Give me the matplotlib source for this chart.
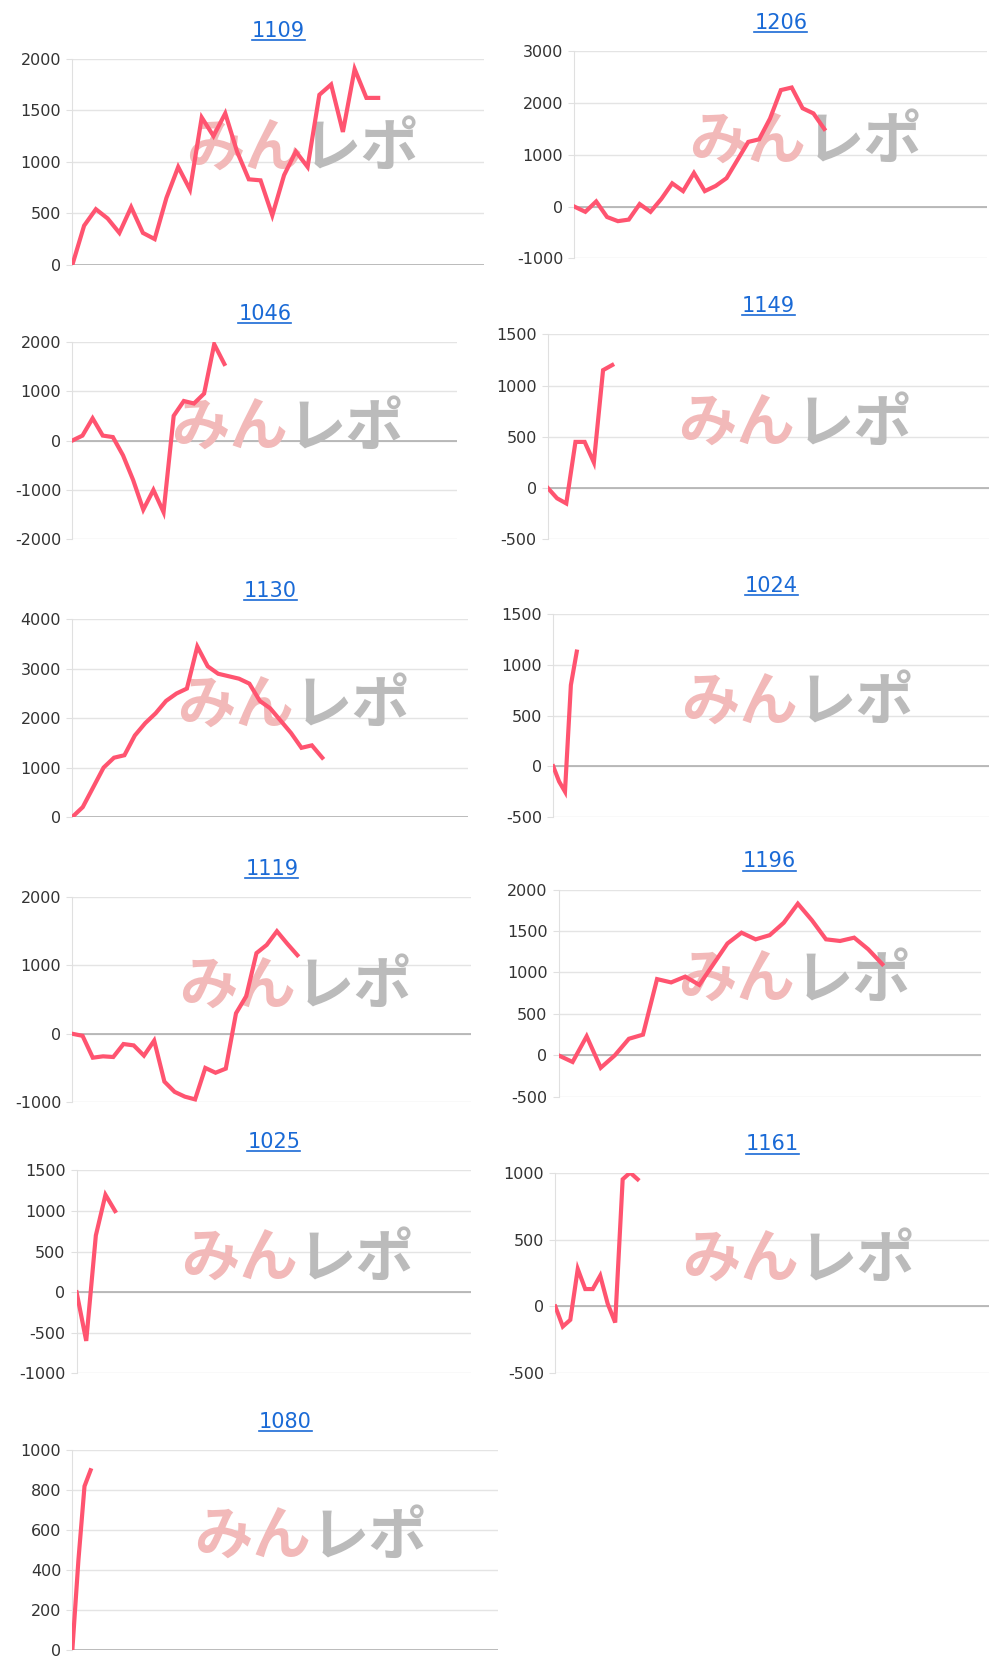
import matplotlib
matplotlib.use("Agg")
import matplotlib.pyplot as plt

plt.rcParams['font.family'] = ['DejaVu Sans', 'Noto Sans CJK JP']

titles = ["1109", "1206", "1046", "1149", "1130", "1024", "1119", "1196", "1025", "1161", "1080"]
s1109 = [0,380,540,450,310,560,310,250,650,950,730,1430,1250,1470,1100,830,820,480,870,1100,950,1650,1750,1290,1900,1620,1620]
s1206 = [0,-100,100,-200,-280,-250,50,-100,150,450,300,650,300,400,550,900,1250,1300,1700,2250,2300,1900,1800,1500]
s1046 = [0,100,450,100,70,-300,-800,-1400,-1000,-1450,500,800,750,950,1950,1550]
s1149 = [0,-100,-150,450,450,250,1150,1200]
s1130 = [0,200,600,1000,1200,1250,1650,1900,2100,2350,2500,2600,3450,3050,2900,2850,2800,2700,2350,2200,1950,1700,1400,1450,1200]
s1024 = [0,-150,-250,800,1130]
s1119 = [0,-30,-350,-330,-340,-150,-170,-320,-100,-700,-850,-920,-960,-500,-570,-510,300,550,1180,1300,1500,1320,1150]
s1196 = [0,-80,230,-150,0,200,250,920,880,950,850,1100,1350,1480,1400,1450,1600,1830,1630,1400,1380,1420,1280,1100]
s1025 = [0,-600,700,1200,1000]
s1161 = [0,-150,-100,280,130,130,230,20,-120,950,1000,950]
s1080 = [0,450,820,900]
series = [s1109, s1206, s1046, s1149, s1130, s1024, s1119, s1196, s1025, s1161, s1080]
yticks = [[0,500,1000,1500,2000],[-1000,0,1000,2000,3000],[-2000,-1000,0,1000,2000],
          [-500,0,500,1000,1500],[0,1000,2000,3000,4000],[-500,0,500,1000,1500],
          [-1000,0,1000,2000],[-500,0,500,1000,1500,2000],[-1000,-500,0,500,1000,1500],
          [-500,0,500,1000],[0,200,400,600,800,1000]]
xmax = [35,38,38,48,38,74,39,30,41,58,70]

W, H = 940.0, 1560.0
boxes = [(68,455,55,248),(540,928,48,242),(68,430,320,505),(515,930,313,505),
         (68,440,580,765),(520,930,575,765),(68,443,840,1032),(525,922,833,1027),
         (72,443,1096,1286),(522,930,1098,1286),(68,468,1358,1545)]

fig = plt.figure(figsize=(10, 16.66), dpi=100)
for i in range(11):
    x0, x1, yt, yb = boxes[i]
    ax = fig.add_axes([x0/W, 1-yb/H, (x1-x0)/W, (yb-yt)/H])
    yt_ = yticks[i]
    ax.set_ylim(yt_[0], yt_[-1])
    ax.set_xlim(0, xmax[i])
    ax.set_yticks(yt_)
    ax.set_yticklabels([str(v) for v in yt_], fontsize=11.5, color='#333333')
    ax.set_xticks([])
    for v in yt_:
        ax.axhline(v, color='#e4e4e4', lw=1, zorder=0)
    ax.axhline(0, color='#b0b0b0', lw=1.2, zorder=1)
    for s in ['top', 'right', 'bottom']:
        ax.spines[s].set_visible(False)
    ax.spines['left'].set_color('#e0e0e0')
    ax.tick_params(axis='y', length=4, color='#e0e0e0', pad=4)
    ax.plot(range(len(series[i])), series[i], color='#ff5470', lw=3, zorder=3,
            solid_joinstyle='miter')
    ax.text(0.56, 0.56, "みん", transform=ax.transAxes, fontsize=42, fontweight='bold',
            style='italic', color='#f2b9b9', ha='right', va='center', family='Noto Sans CJK JP', zorder=2)
    ax.text(0.56, 0.56, "レポ", transform=ax.transAxes, fontsize=42, fontweight='bold',
            style='italic', color='#bbbbbb', ha='left', va='center', family='Noto Sans CJK JP', zorder=2)
    ax.set_title(titles[i], fontsize=15, color='#1a6ad6', pad=16, family='DejaVu Sans')

fig.canvas.draw()
r = fig.canvas.get_renderer()
for ax in fig.axes:
    bb = ax.title.get_window_extent(r).transformed(fig.transFigure.inverted())
    y = bb.y0 + 0.0005
    fig.add_artist(plt.Line2D([bb.x0, bb.x1], [y, y], color='#1a6ad6', lw=1.2, transform=fig.transFigure))

fig.savefig("out.png", dpi=100, facecolor='white')
